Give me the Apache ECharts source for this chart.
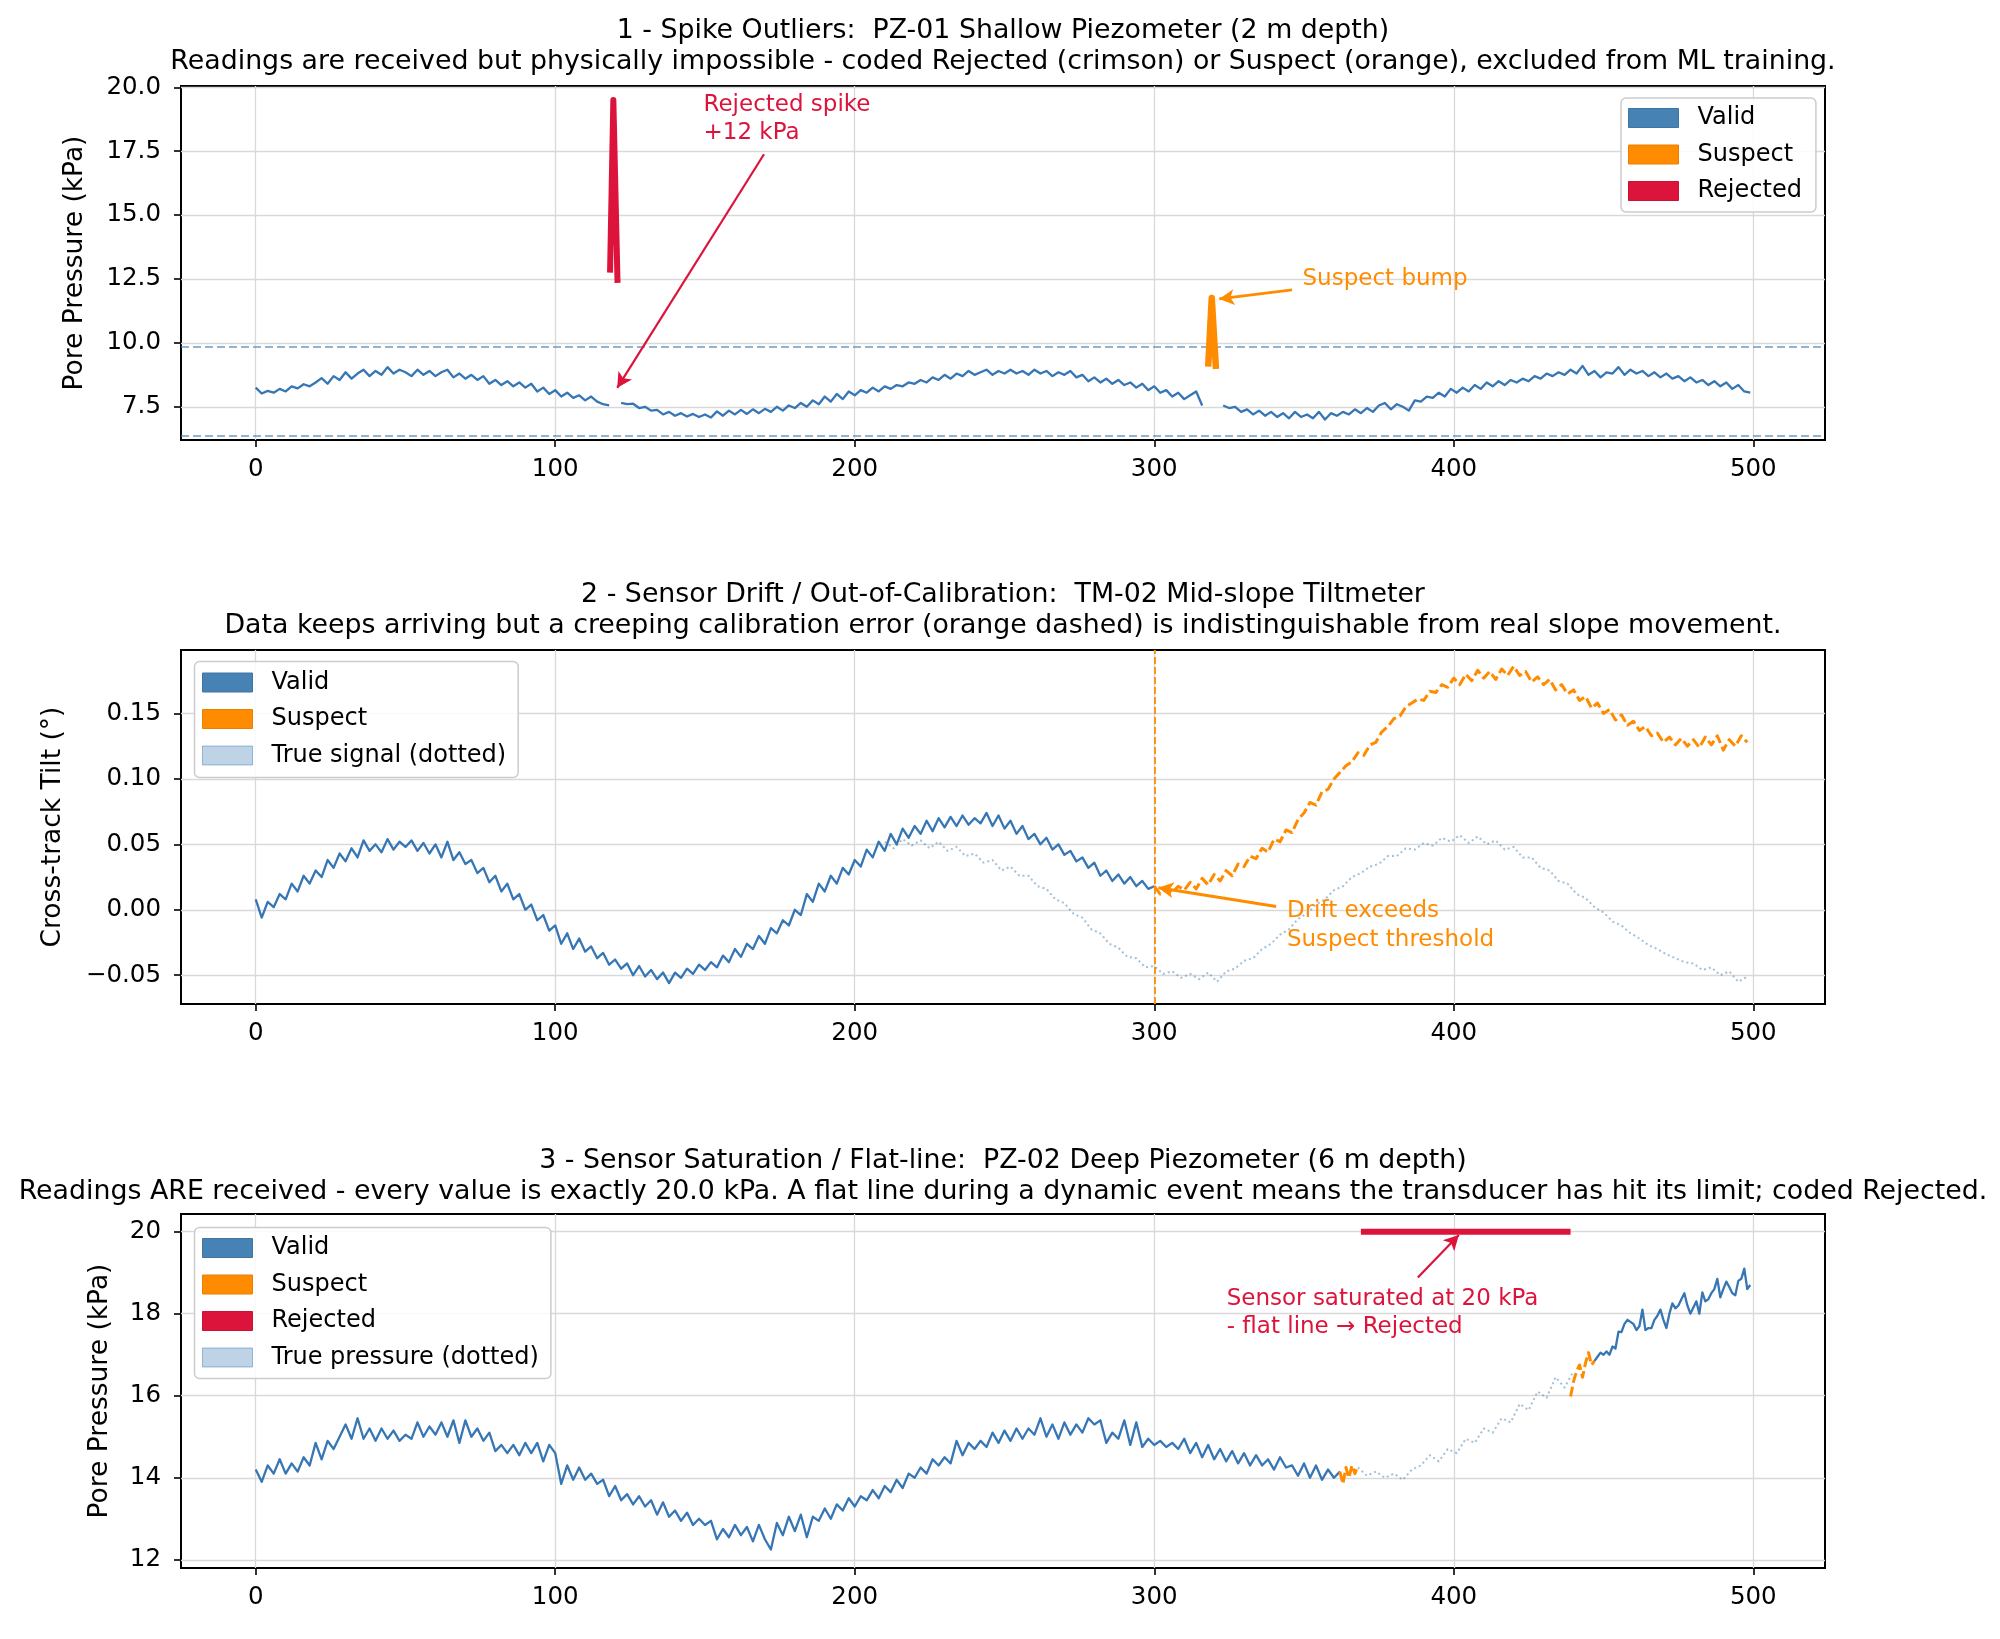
<!DOCTYPE html>
<html><head><meta charset="utf-8">
<script src="https://cdn.jsdelivr.net/npm/echarts@6/dist/echarts.min.js"></script>
<style>html,body{margin:0;padding:0;background:#fff}#c{width:2000px;height:1639px}</style>
</head><body><div id="c"></div><script>
// ---------------- DATA ----------------
const xTicks = [0, 100, 200, 300, 400, 500];
const pz1YTicks = [7.5, 10, 12.5, 15, 17.5, 20];
const tm2YTicks = [-0.05, 0, 0.05, 0.10, 0.15];
const pz2YTicks = [12, 14, 16, 18, 20];

// Panel 1: PZ-01 valid segments (sample index start, step 2)
const pz1ValidAStart = 0;
const pz1ValidA = [8.25,8.02,8.12,8.05,8.2,8.1,8.3,8.22,8.38,8.3,
8.45,8.62,8.4,8.7,8.55,8.85,8.6,8.8,8.95,8.7,
8.9,8.75,9.05,8.8,8.95,8.85,8.7,8.95,8.75,8.9,
8.7,8.85,8.95,8.65,8.8,8.6,8.75,8.55,8.7,8.4,
8.55,8.35,8.5,8.3,8.45,8.25,8.4,8.1,8.25,8.0,
8.15,7.9,8.05,7.85,7.95,7.75,7.9,7.7,7.6,7.55];
const pz1ValidBStart = 122;
const pz1ValidB = [7.65,7.6,7.62,7.45,7.5,7.35,7.38,7.2,7.3,7.15,
7.25,7.12,7.22,7.1,7.2,7.08,7.32,7.15,7.35,7.2,
7.38,7.22,7.4,7.25,7.42,7.3,7.5,7.35,7.55,7.45,
7.65,7.5,7.75,7.6,7.9,7.7,8.0,7.8,8.1,7.95,
8.15,8.05,8.25,8.1,8.3,8.2,8.35,8.3,8.45,8.4,
8.55,8.45,8.65,8.55,8.75,8.6,8.8,8.7,8.9,8.75,
8.85,8.95,8.75,8.9,8.8,8.95,8.8,8.9,8.75,8.95,
8.8,8.9,8.7,8.85,8.75,8.9,8.65,8.75,8.5,8.65,
8.45,8.6,8.4,8.55,8.35,8.45,8.25,8.4,8.15,8.3,
8.05,8.15,7.9,8.05,7.8,7.95,8.1,7.55];
const pz1ValidCStart = 323;
const pz1ValidC = [7.55,7.45,7.5,7.3,7.4,7.2,7.35,7.15,7.3,7.1,
7.25,7.05,7.3,7.1,7.2,7.05,7.3,7.0,7.25,7.15,
7.3,7.2,7.4,7.25,7.45,7.3,7.55,7.65,7.4,7.6,
7.5,7.35,7.75,7.7,7.9,7.85,8.05,7.9,8.2,8.05,
8.25,8.1,8.35,8.2,8.45,8.3,8.5,8.35,8.55,8.45,
8.6,8.5,8.7,8.6,8.8,8.7,8.85,8.75,8.95,8.8,
9.1,8.75,8.9,8.65,8.85,8.8,9.05,8.75,8.95,8.8,
8.9,8.7,8.85,8.65,8.8,8.6,8.7,8.5,8.65,8.45,
8.55,8.35,8.5,8.3,8.45,8.2,8.35,8.1,8.05];
const pz1RejectedX = [118.3, 119.4, 120.8];
const pz1RejectedY = [12.75, 19.5, 12.35];
const pz1SuspectX = [318, 319.2, 320.6];
const pz1SuspectY = [9.07, 11.76, 8.98];
const pz1Thresholds = [9.85, 6.35];

// Panel 2: TM-02 tilt
const tm2ValidStart = 0;
const tm2Valid = [0.008,-0.006,0.006,0.002,0.012,0.008,0.02,0.014,0.026,0.02,
0.03,0.025,0.038,0.032,0.043,0.037,0.047,0.04,0.053,0.045,
0.05,0.044,0.054,0.046,0.052,0.048,0.053,0.045,0.051,0.043,
0.05,0.04,0.052,0.038,0.044,0.035,0.038,0.028,0.032,0.021,
0.026,0.014,0.02,0.008,0.012,0.0,0.004,-0.008,-0.004,-0.016,
-0.012,-0.026,-0.018,-0.03,-0.022,-0.032,-0.028,-0.037,-0.033,-0.042,
-0.038,-0.045,-0.041,-0.05,-0.043,-0.051,-0.046,-0.053,-0.048,-0.056,
-0.048,-0.052,-0.045,-0.049,-0.042,-0.046,-0.04,-0.044,-0.035,-0.04,
-0.03,-0.036,-0.026,-0.03,-0.02,-0.026,-0.014,-0.018,-0.008,-0.012,
0.0,-0.004,0.012,0.006,0.02,0.014,0.026,0.02,0.032,0.027,
0.038,0.033,0.046,0.04,0.052,0.045,0.058,0.05,0.062,0.055,
0.064,0.058,0.068,0.06,0.07,0.063,0.071,0.064,0.072,0.065,
0.07,0.066,0.074,0.064,0.072,0.062,0.068,0.058,0.064,0.054,
0.058,0.05,0.055,0.046,0.05,0.042,0.045,0.037,0.04,0.032,
0.036,0.026,0.03,0.022,0.027,0.02,0.025,0.018,0.022,0.016,
0.018];
const tm2SuspectStart = 300;
const tm2Suspect = [0.018,0.012,0.016,0.013,0.018,0.015,0.021,0.016,0.024,0.019,
0.027,0.022,0.03,0.026,0.035,0.033,0.041,0.039,0.047,0.044,
0.054,0.052,0.061,0.059,0.069,0.074,0.082,0.08,0.09,0.092,
0.1,0.105,0.11,0.113,0.12,0.118,0.126,0.128,0.136,0.14,
0.146,0.148,0.155,0.158,0.161,0.16,0.167,0.166,0.172,0.17,
0.177,0.172,0.18,0.175,0.183,0.177,0.182,0.176,0.184,0.179,
0.186,0.179,0.182,0.174,0.178,0.172,0.176,0.168,0.172,0.165,
0.168,0.16,0.163,0.154,0.158,0.15,0.153,0.145,0.149,0.141,
0.144,0.137,0.14,0.133,0.135,0.128,0.132,0.126,0.131,0.125,
0.13,0.124,0.132,0.126,0.133,0.122,0.13,0.125,0.133,0.128];
const tm2TrueStart = 210;
const tm2True = [0.052,0.047,0.054,0.049,0.053,0.047,0.052,0.045,0.048,0.041,
0.043,0.036,0.038,0.03,0.033,0.026,0.026,0.018,0.016,0.008,
0.005,-0.003,-0.006,-0.015,-0.018,-0.026,-0.029,-0.036,-0.037,-0.044,
-0.043,-0.049,-0.047,-0.052,-0.049,-0.053,-0.048,-0.055,-0.047,-0.045,
-0.039,-0.037,-0.03,-0.026,-0.019,-0.015,-0.007,-0.003,0.004,0.008,
0.015,0.018,0.025,0.028,0.033,0.035,0.041,0.041,0.047,0.046,
0.051,0.049,0.055,0.052,0.057,0.051,0.056,0.05,0.053,0.046,
0.048,0.04,0.04,0.032,0.03,0.022,0.02,0.012,0.009,0.002,
-0.002,-0.009,-0.012,-0.018,-0.022,-0.027,-0.03,-0.034,-0.037,-0.04,
-0.041,-0.046,-0.044,-0.05,-0.047,-0.055,-0.051];
const tm2DriftStartX = 300;

// Panel 3: PZ-02 deep piezometer
const pz2ValidAStart = 0;
const pz2ValidA = [14.2,13.9,14.3,14.1,14.45,14.1,14.35,14.15,14.5,14.3,
14.85,14.45,14.9,14.7,15.0,15.3,14.95,15.45,14.95,15.2,
14.9,15.2,14.95,15.15,14.9,15.05,14.95,15.35,15.0,15.25,
15.05,15.35,15.0,15.4,14.85,15.4,15.0,15.2,14.9,15.1,
14.65,14.8,14.6,14.8,14.55,14.85,14.6,14.85,14.4,14.8,
14.6,13.85,14.3,13.95,14.25,13.95,14.1,13.85,13.95,13.55,
13.8,13.45,13.6,13.35,13.55,13.3,13.45,13.1,13.4,13.05,
13.2,12.95,13.15,12.85,13.0,12.85,12.95,12.5,12.75,12.55,
12.85,12.6,12.8,12.45,12.85,12.5,12.25,12.9,12.6,13.05,
12.7,13.1,12.55,13.05,12.95,13.25,13.0,13.35,13.2,13.5,
13.3,13.55,13.45,13.7,13.5,13.8,13.65,13.95,13.75,14.1,
14.0,14.25,14.1,14.45,14.3,14.5,14.35,14.9,14.55,14.85,
14.7,14.9,14.75,15.1,14.85,15.15,14.9,15.2,14.95,15.2,
15.05,15.45,15.0,15.3,14.95,15.35,15.05,15.3,15.1,15.45,
15.3,15.4,14.85,15.1,14.95,15.4,14.8,15.35,14.75,14.95,
14.8,14.9,14.75,14.85,14.7,14.95,14.6,14.85,14.5,14.8,
14.45,14.7,14.4,14.65,14.35,14.6,14.3,14.55,14.3,14.45,
14.2,14.5,14.25,14.3,14.05,14.35,14.0,14.3,13.95,14.2,
14.0,14.15];
const pz2SuspectAStart = 362;
const pz2SuspectA = [14.15,13.85,14.25,14.0,14.3,14.1,14.3];
const pz2TrueStart = 368;
const pz2True = [14.25,14.05,14.15,14.0,14.1,13.95,14.2,14.3,14.55,14.4,14.7,14.6,14.95,14.85,15.2,15.1,15.45,15.35,15.8,15.65,16.1,15.95,16.45,16.2,16.6];
const pz2SuspectBStart = 439;
const pz2SuspectB = [15.98,16.35,16.6,16.75,16.45,16.8,17.05,16.75,16.85];
const pz2ValidBStart = 447;
const pz2ValidB = [16.85,16.95,17.05,17.0,17.08,17.0,17.2,17.15,17.56,17.55,
17.75,17.85,17.8,17.75,17.6,17.7,18.1,17.6,17.65,17.65,
17.85,17.95,18.1,17.85,17.65,18.0,18.25,18.13,18.2,18.35,
18.5,18.2,18.0,18.15,18.3,18.0,18.52,18.3,18.35,18.5,
18.6,18.85,18.4,18.6,18.78,18.65,18.5,18.45,18.8,18.85,
19.1,18.6,18.7];
const pz2SaturatedX = [369, 439];
const pz2SaturatedY = [20.0, 20.0];

// ---------------- TEXT ----------------
const titles = [
  ['1 - Spike Outliers:  PZ-01 Shallow Piezometer (2 m depth)',
   'Readings are received but physically impossible - coded Rejected (crimson) or Suspect (orange), excluded from ML training.'],
  ['2 - Sensor Drift / Out-of-Calibration:  TM-02 Mid-slope Tiltmeter',
   'Data keeps arriving but a creeping calibration error (orange dashed) is indistinguishable from real slope movement.'],
  ['3 - Sensor Saturation / Flat-line:  PZ-02 Deep Piezometer (6 m depth)',
   'Readings ARE received - every value is exactly 20.0 kPa. A flat line during a dynamic event means the transducer has hit its limit; coded Rejected.']
];
const yNames = ['Pore Pressure (kPa)', 'Cross-track Tilt (°)', 'Pore Pressure (kPa)'];

// ---------------- STYLE / LAYOUT ----------------
const FONT = '"DejaVu Sans", Verdana, sans-serif';
const C_VALID = '#3676b4', C_VALID_PATCH = '#4682b4', C_SUS = '#ff8c00', C_REJ = '#dc143c';
const C_TRUE = 'rgba(70,130,180,0.5)';
const GRID_TOPS = [86, 650, 1214], GRID_H = 354, GRID_L = 181, GRID_W = 1644;
const TITLE_Y = [[31, 62], [595, 626.5], [1161, 1192]];
const yRanges = [[6.2, 20.05], [-0.072, 0.1985], [11.8, 20.43]];
const yTickSets = [pz1YTicks, tm2YTicks, pz2YTicks];
const yFormatters = [
  v => v.toFixed(1),
  v => (v < 0 ? '\u2212' : '') + Math.abs(v).toFixed(2),
  v => String(Math.round(v))
];
const nameGaps = [92, 114, 67];

const annotations = [
  {panel: 0, lines: ['Rejected spike', '+12 kPa'], x: 149.5, ys: [19.3, 18.2], color: C_REJ, from: [169.7, 17.38], to: [120.7, 8.24], w: 2.2},
  {panel: 0, lines: ['Suspect bump'], x: 349.5, ys: [12.5], color: C_SUS, from: [346, 12.07], to: [321.7, 11.72], w: 2.8},
  {panel: 1, lines: ['Drift exceeds', 'Suspect threshold'], x: 344.3, ys: [-0.0013, -0.023], color: C_SUS, from: [340.7, 0.0025], to: [301.4, 0.0168], w: 3},
  {panel: 2, lines: ['Sensor saturated at 20 kPa', '- flat line \u2192 Rejected'], x: 324.2, ys: [18.36, 17.68], color: C_REJ, from: [388, 18.88], to: [401.7, 19.92], w: 2.2}
];

// ---------------- BUILD ----------------
function seq(start, step, vals) { return vals.map((v, i) => [start + i * step, v]); }
function pairs(xs, ys) { return xs.map((x, i) => [x, ys[i]]); }

function line(i, name, data, color, width, extra) {
  return Object.assign({
    type: 'line', name, xAxisIndex: i, yAxisIndex: i, data,
    showSymbol: false, symbol: 'none', silent: true, animation: false, z: 3,
    emphasis: {disabled: true},
    itemStyle: {color},
    lineStyle: Object.assign({color, width, cap: 'butt', join: 'round'}, (extra && extra.ls) || {})
  }, (extra && extra.s) || {});
}
function helper(i, mlData, lineStyle, z, symbol, symbolSize) {
  return {
    type: 'line', xAxisIndex: i, yAxisIndex: i, data: [], silent: true, animation: false, z,
    markLine: {silent: true, animation: false, z, symbol: symbol || ['none', 'none'], symbolSize: symbolSize || 10,
      label: {show: false}, emphasis: {disabled: true}, lineStyle, data: mlData}
  };
}

const grids = [0, 1, 2].map(i => ({left: GRID_L, width: GRID_W, top: GRID_TOPS[i], height: GRID_H,
  show: true, borderColor: '#000', borderWidth: 2, backgroundColor: 'transparent', containLabel: false, outerBoundsMode: 'none'}));
const xAxes = [0, 1, 2].map(i => ({type: 'value', gridIndex: i, min: -24.95, max: 523.95,
  axisLine: {show: false, onZero: false},
  axisTick: {show: true, length: 7, lineStyle: {color: '#000', width: 1.6}, customValues: xTicks},
  axisLabel: {customValues: xTicks, fontSize: 24.5, fontFamily: FONT, color: '#000', margin: 17},
  splitLine: {show: false}}));
const yAxes = [0, 1, 2].map(i => ({type: 'value', gridIndex: i, min: yRanges[i][0], max: yRanges[i][1],
  name: yNames[i], nameLocation: 'middle', nameRotate: 90, nameGap: nameGaps[i],
  nameTextStyle: {fontSize: 26.5, fontFamily: FONT, color: '#000'},
  axisLine: {show: false, onZero: false},
  axisTick: {show: true, length: 7, lineStyle: {color: '#000', width: 1.6}, customValues: yTickSets[i]},
  axisLabel: {customValues: yTickSets[i], formatter: yFormatters[i], fontSize: 24.5, fontFamily: FONT, color: '#000', margin: 20},
  splitLine: {show: false}}));

const gridLineStyle = {color: '#d9d9d9', width: 1.3, type: 'solid'};
const series = [];
for (let i = 0; i < 3; i++) {
  const ml = xTicks.map(v => ({xAxis: v})).concat(yTickSets[i].map(v => ({yAxis: v})));
  series.push(helper(i, ml, gridLineStyle, 1));
}
// panel 1
series.push(helper(0, pz1Thresholds.map(v => ({yAxis: v})), {color: 'rgba(70,130,180,0.6)', width: 2, type: [8, 4]}, 2));
series.push(line(0, 'Valid', seq(pz1ValidAStart, 2, pz1ValidA), C_VALID, 2.3));
series.push(line(0, 'Valid', seq(pz1ValidBStart, 2, pz1ValidB), C_VALID, 2.3));
series.push(line(0, 'Valid', seq(pz1ValidCStart, 2, pz1ValidC), C_VALID, 2.3));
series.push(line(0, 'Rejected', pairs(pz1RejectedX, pz1RejectedY), C_REJ, 6));
series.push(line(0, 'Suspect', pairs(pz1SuspectX, pz1SuspectY), C_SUS, 6.5));
// panel 2
series.push(line(1, 'True signal (dotted)', seq(tm2TrueStart, 3, tm2True), C_TRUE, 2, {ls: {type: [2, 3]}, s: {z: 2}}));
series.push(line(1, 'Valid', seq(tm2ValidStart, 2, tm2Valid), C_VALID, 2.3));
series.push(line(1, 'Suspect', seq(tm2SuspectStart, 2, tm2Suspect), C_SUS, 3, {ls: {type: [10, 4]}}));
series.push(helper(1, [{xAxis: tm2DriftStartX}], {color: C_SUS, width: 1.8, type: [7, 3]}, 2));
// panel 3
series.push(line(2, 'Valid', seq(pz2ValidAStart, 2, pz2ValidA), C_VALID, 2.3));
series.push(line(2, 'Suspect', seq(pz2SuspectAStart, 1, pz2SuspectA), C_SUS, 3, {ls: {type: [10, 4]}}));
series.push(line(2, 'True pressure (dotted)', seq(pz2TrueStart, 3, pz2True), C_TRUE, 2, {ls: {type: [2, 3]}, s: {z: 2}}));
series.push(line(2, 'Suspect', seq(pz2SuspectBStart, 1, pz2SuspectB), C_SUS, 3, {ls: {type: [10, 4]}}));
series.push(line(2, 'Valid', seq(pz2ValidBStart, 1, pz2ValidB), C_VALID, 2.3));
series.push(line(2, 'Rejected', pairs(pz2SaturatedX, pz2SaturatedY), C_REJ, 6));
// arrows
annotations.forEach(a => {
  series.push(helper(a.panel, [[{coord: a.from}, {coord: a.to}]], {color: a.color, width: a.w, type: 'solid'}, 6, ['none', 'arrow'], [12, 15]));
});

const legendBase = {orient: 'vertical', selectedMode: false, itemWidth: 50, itemHeight: 19, itemGap: 12.5, icon: 'rect',
  backgroundColor: 'rgba(255,255,255,0.85)', borderColor: '#cccccc', borderWidth: 1.5, borderRadius: 5,
  textStyle: {fontSize: 24, fontFamily: FONT, color: '#000', lineHeight: 24, padding: [0, 0, 0, 14]}};
const LG = {
  Valid: {color: C_VALID_PATCH, borderColor: '#3f75a3', borderWidth: 1},
  Suspect: {color: C_SUS, borderColor: '#e88000', borderWidth: 1},
  Rejected: {color: C_REJ, borderColor: '#c81236', borderWidth: 1},
  True: {color: 'rgba(70,130,180,0.35)', borderColor: 'rgba(70,130,180,0.5)', borderWidth: 1}
};
const legends = [
  Object.assign({}, legendBase, {left: 1621, top: 98, padding: [8, 14, 9, 7],
    data: [{name: 'Valid', itemStyle: LG.Valid}, {name: 'Suspect', itemStyle: LG.Suspect}, {name: 'Rejected', itemStyle: LG.Rejected}]}),
  Object.assign({}, legendBase, {left: 194.5, top: 661.5, padding: [9, 12, 10, 7.5],
    data: [{name: 'Valid', itemStyle: LG.Valid}, {name: 'Suspect', itemStyle: LG.Suspect}, {name: 'True signal (dotted)', itemStyle: LG.True}]}),
  Object.assign({}, legendBase, {left: 194.5, top: 1227.5, padding: [8.5, 12, 9, 7.5],
    data: [{name: 'Valid', itemStyle: LG.Valid}, {name: 'Suspect', itemStyle: LG.Suspect}, {name: 'Rejected', itemStyle: LG.Rejected}, {name: 'True pressure (dotted)', itemStyle: LG.True}]})
];

const chart = echarts.init(document.getElementById('c'), null, {renderer: 'canvas', width: 2000, height: 1639});
chart.setOption({
  backgroundColor: '#fff', animation: false,
  grid: grids, xAxis: xAxes, yAxis: yAxes, legend: legends, series
});

const graphics = [];
titles.forEach((t, i) => {
  t.forEach((txt, j) => graphics.push({type: 'text', x: GRID_L + GRID_W / 2, y: TITLE_Y[i][j], z: 100, silent: true,
    style: {text: txt, fontSize: 26.8, fontFamily: FONT, fill: '#000', align: 'center', verticalAlign: 'middle'}}));
});
annotations.forEach(a => {
  a.lines.forEach((txt, j) => {
    const p = chart.convertToPixel({xAxisIndex: a.panel, yAxisIndex: a.panel}, [a.x, a.ys[j]]);
    graphics.push({type: 'text', x: p[0], y: p[1], z: 100, silent: true,
      style: {text: txt, fontSize: 23, fontFamily: FONT, fill: a.color, align: 'left', verticalAlign: 'middle'}});
  });
});
chart.setOption({graphic: graphics});
</script></body></html>
